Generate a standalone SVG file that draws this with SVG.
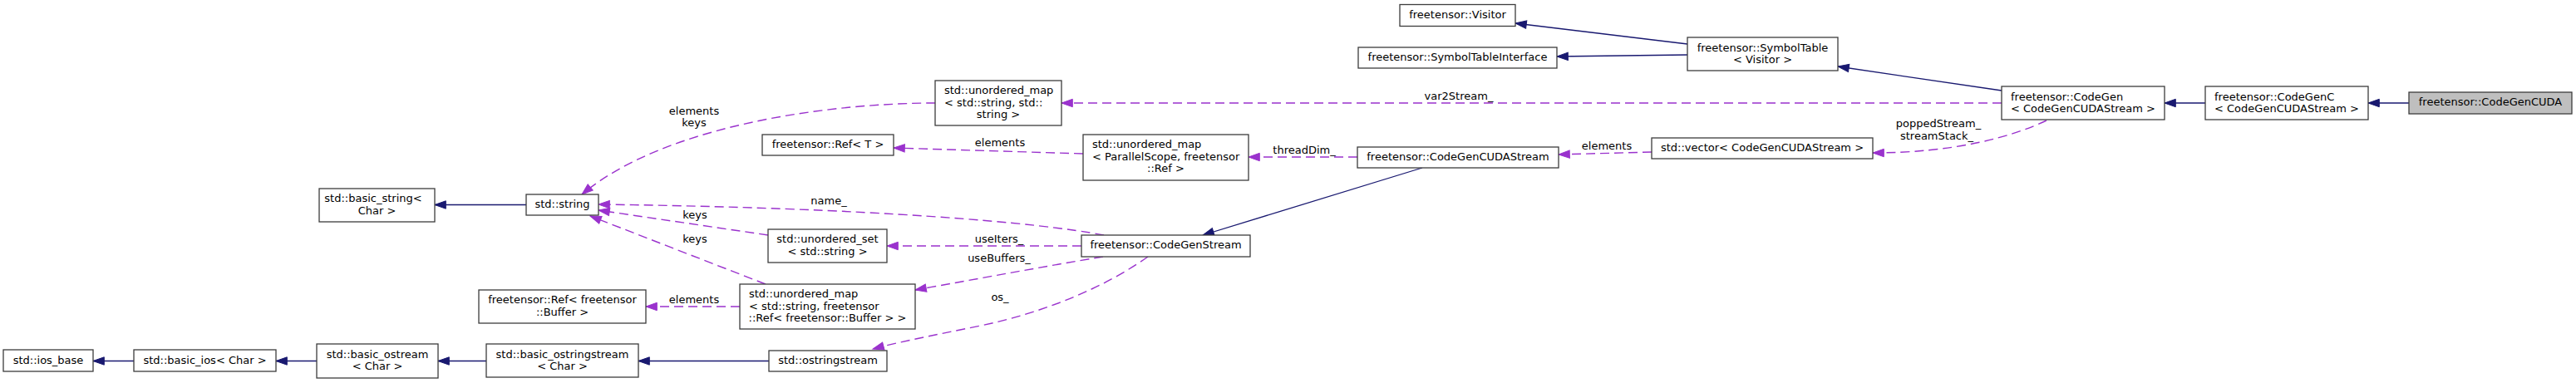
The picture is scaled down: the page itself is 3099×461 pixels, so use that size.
<svg xmlns="http://www.w3.org/2000/svg" width="3099" height="461" viewBox="0 0 3099 461">
<style>
  text { font-family: "DejaVu Sans", "Liberation Sans", sans-serif; font-size: 13px; fill: #000; }
  .n rect { fill: #fff; stroke: #3c3c3c; stroke-width: 1.3; }
  .n rect.cur { fill: #bfbfbf; }
  .c { text-anchor: middle; }
  .inh { fill: none; stroke: #191970; stroke-width: 1.3; marker-end: url(#an); }
  .use { fill: none; stroke: #9a32cd; stroke-width: 1.4; stroke-dasharray: 11,6; marker-end: url(#ap); }
  .lbl { text-anchor: middle; }
</style>
<defs>
  <marker id="an" viewBox="-1 -6 16 12" refX="13.3" refY="0" markerWidth="16" markerHeight="12" markerUnits="userSpaceOnUse" orient="auto">
    <path d="M0,-4.7 L13.3,0 L0,4.7 Z" fill="#191970" stroke="#191970" stroke-width="1" stroke-dasharray="none"/>
  </marker>
  <marker id="ap" viewBox="-1 -6 16 12" refX="13.3" refY="0" markerWidth="16" markerHeight="12" markerUnits="userSpaceOnUse" orient="auto">
    <path d="M0,-4.7 L13.3,0 L0,4.7 Z" fill="#9a32cd" stroke="#9a32cd" stroke-width="1" stroke-dasharray="none"/>
  </marker>
</defs>
<rect width="3099" height="461" fill="#fff"/>

<g id="edges">
  <path class="inh" d="M2898,124 L2849,124"/>
  <path class="inh" d="M2653,124 L2604,124"/>
  <path class="inh" d="M2408,109 L2211,80"/>
  <path class="inh" d="M2030,53 L1823,28"/>
  <path class="inh" d="M2030,66 L1873,68"/>
  <path class="inh" d="M1711,202 L1447,283"/>
  <path class="inh" d="M925,434.5 L768,434.5"/>
  <path class="inh" d="M585,434.5 L527,434.5"/>
  <path class="inh" d="M381,434.5 L332,434.5"/>
  <path class="inh" d="M161,434.5 L112,434.5"/>
  <path class="inh" d="M633,246.5 L523,246.5"/>

  <path class="use" d="M2408,124 L1277,124"/>
  <text class="lbl" x="1755" y="120">var2Stream_</text>

  <path class="use" d="M2462,145 C2420,165 2350,184 2253,184"/>
  <text class="lbl" x="2332" y="153">poppedStream_</text>
  <text class="lbl" x="2330" y="168">streamStack_</text>

  <path class="use" d="M1987,183 L1875,186"/>
  <text class="lbl" x="1933" y="180">elements</text>

  <path class="use" d="M1633,189 L1502,189"/>
  <text class="lbl" x="1569" y="185">threadDim_</text>

  <path class="use" d="M1303,185 L1075,178"/>
  <text class="lbl" x="1203" y="175.5">elements</text>

  <path class="use" d="M1301,296 L1067,296"/>
  <text class="lbl" x="1202" y="291.5">useIters_</text>

  <path class="use" d="M1327,309 C1260,320 1180,335 1101,349"/>
  <text class="lbl" x="1202" y="315">useBuffers_</text>

  <path class="use" d="M1381,309 C1330,345 1260,375 1180,392 C1120,404 1080,412 1050,420"/>
  <text class="lbl" x="1203" y="362">os_</text>

  <path class="use" d="M1328,283 C1250,268 1050,250 720,246"/>
  <text class="lbl" x="997" y="245.5">name_</text>

  <path class="use" d="M924,283 L720,253"/>
  <text class="lbl" x="836" y="263">keys</text>

  <path class="use" d="M921,342 L710,260"/>
  <text class="lbl" x="836" y="292">keys</text>

  <path class="use" d="M1125,124 C1000,124 800,150 700,234"/>
  <text class="lbl" x="835" y="138">elements</text>
  <text class="lbl" x="835" y="152">keys</text>

  <path class="use" d="M890,369 L777,369"/>
  <text class="lbl" x="835" y="365">elements</text>
</g>

<g id="CodeGenCUDA" class="n">
  <rect class="cur" x="2898" y="111" width="196" height="26"/>
  <text class="c" x="2996" y="127.3">freetensor::CodeGenCUDA</text>
</g>
<g id="CodeGenC" class="n">
  <rect x="2653" y="104" width="196" height="40"/>
  <text x="2664" y="120.6">freetensor::CodeGenC</text>
  <text class="c" x="2751" y="135">&lt; CodeGenCUDAStream &gt;</text>
</g>
<g id="CodeGen" class="n">
  <rect x="2408" y="104" width="196" height="40"/>
  <text x="2419" y="120.6">freetensor::CodeGen</text>
  <text class="c" x="2506" y="135">&lt; CodeGenCUDAStream &gt;</text>
</g>
<g id="SymbolTable" class="n">
  <rect x="2030" y="45" width="181" height="40"/>
  <text class="c" x="2120.5" y="61.6">freetensor::SymbolTable</text>
  <text class="c" x="2120.5" y="76">&lt; Visitor &gt;</text>
</g>
<g id="Visitor" class="n">
  <rect x="1684" y="5.5" width="139" height="26"/>
  <text class="c" x="1753.5" y="22">freetensor::Visitor</text>
</g>
<g id="SymbolTableInterface" class="n">
  <rect x="1634" y="57" width="239" height="25"/>
  <text class="c" x="1753.5" y="73.3">freetensor::SymbolTableInterface</text>
</g>
<g id="MapStrStr" class="n">
  <rect x="1125" y="97" width="152" height="54"/>
  <text x="1136" y="113.3">std::unordered_map</text>
  <text x="1136" y="127.5">&lt; std::string, std::</text>
  <text class="c" x="1201" y="141.5">string &gt;</text>
</g>
<g id="VectorStream" class="n">
  <rect x="1987" y="166" width="266" height="25"/>
  <text class="c" x="2120" y="182">std::vector&lt; CodeGenCUDAStream &gt;</text>
</g>
<g id="CodeGenCUDAStream" class="n">
  <rect x="1633" y="177" width="242" height="25"/>
  <text class="c" x="1754" y="193">freetensor::CodeGenCUDAStream</text>
</g>
<g id="MapParallelScope" class="n">
  <rect x="1303" y="162" width="199" height="55"/>
  <text x="1314" y="178.3">std::unordered_map</text>
  <text x="1314" y="192.6">&lt; ParallelScope, freetensor</text>
  <text class="c" x="1402.5" y="206.9">::Ref &gt;</text>
</g>
<g id="RefT" class="n">
  <rect x="917" y="162" width="158" height="25"/>
  <text class="c" x="996" y="178">freetensor::Ref&lt; T &gt;</text>
</g>
<g id="CodeGenStream" class="n">
  <rect x="1301" y="283" width="203" height="26"/>
  <text class="c" x="1402.5" y="299.3">freetensor::CodeGenStream</text>
</g>
<g id="UnorderedSet" class="n">
  <rect x="924" y="276" width="143" height="40"/>
  <text class="c" x="995.5" y="292.3">std::unordered_set</text>
  <text class="c" x="995.5" y="306.7">&lt; std::string &gt;</text>
</g>
<g id="MapStrRefBuffer" class="n">
  <rect x="890" y="342" width="211" height="54"/>
  <text x="901" y="358.3">std::unordered_map</text>
  <text x="901" y="372.7">&lt; std::string, freetensor</text>
  <text class="c" x="995.5" y="386.7">::Ref&lt; freetensor::Buffer &gt; &gt;</text>
</g>
<g id="OStringStream" class="n">
  <rect x="925" y="422" width="142" height="25"/>
  <text class="c" x="996" y="438">std::ostringstream</text>
</g>
<g id="StdString" class="n">
  <rect x="633" y="234" width="87" height="25"/>
  <text class="c" x="676.5" y="250">std::string</text>
</g>
<g id="RefBuffer" class="n">
  <rect x="576" y="349" width="201" height="40"/>
  <text class="c" x="676.5" y="365.2">freetensor::Ref&lt; freetensor</text>
  <text class="c" x="676.5" y="379.5">::Buffer &gt;</text>
</g>
<g id="BasicString" class="n">
  <rect x="384" y="227" width="139" height="40"/>
  <text class="c" x="449" y="243.4">std::basic_string&lt;</text>
  <text class="c" x="453.5" y="257.8">Char &gt;</text>
</g>
<g id="BasicOStringStream" class="n">
  <rect x="585" y="414" width="183" height="40"/>
  <text class="c" x="676.5" y="431">std::basic_ostringstream</text>
  <text class="c" x="676.5" y="445">&lt; Char &gt;</text>
</g>
<g id="BasicOStream" class="n">
  <rect x="381" y="414" width="146" height="41"/>
  <text class="c" x="454" y="431">std::basic_ostream</text>
  <text class="c" x="454" y="445">&lt; Char &gt;</text>
</g>
<g id="BasicIos" class="n">
  <rect x="161" y="421" width="171" height="26"/>
  <text class="c" x="246.5" y="437.5">std::basic_ios&lt; Char &gt;</text>
</g>
<g id="IosBase" class="n">
  <rect x="4" y="421" width="108" height="26"/>
  <text class="c" x="58" y="437.5">std::ios_base</text>
</g>
</svg>
